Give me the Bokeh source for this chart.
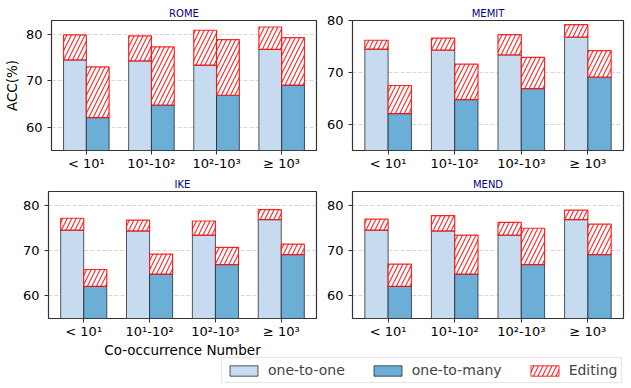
from bokeh.plotting import figure
from bokeh.models import Range1d, FixedTicker, Legend, LegendItem, ColumnDataSource, Label
from bokeh.layouts import column, row
from bokeh.embed import file_html
from bokeh.resources import INLINE

groups = ["< 10¹", "10¹-10²", "10²-10³", "≥ 10³"]
one_to_one = [74.5, 74.3, 73.4, 76.8]
one_to_many = [62.1, 64.8, 66.9, 69.1]

rome_o2o_edit = [79.9, 79.7, 80.9, 81.6]
rome_o2m_edit = [73.0, 77.3, 78.9, 79.3]
memit_o2o_edit = [76.2, 76.6, 77.3, 79.2]
memit_o2m_edit = [67.5, 71.6, 72.9, 74.2]
ike_o2o_edit = [77.1, 76.7, 76.5, 79.0]
ike_o2m_edit = [65.8, 69.2, 70.7, 71.4]
mend_o2o_edit = [76.9, 77.7, 76.2, 78.9]
mend_o2m_edit = [67.0, 73.4, 74.9, 75.8]

methods = ["ROME", "MEMIT", "IKE", "MEND"]
y_tops = [83, 80, 83, 83]
y_bottom = 55
y_ticks = [60, 70, 80]
x_label = "Co-occurrence Number"
y_label = "ACC(%)"
legend_labels = ["one-to-one", "one-to-many", "Editing"]

C_O2O = "#c6dbef"
C_O2M = "#6baed6"
EDGE = "#222222"
FONT = "DejaVu Sans"
BAR_W = 0.35


def panel(title, o2o_edit, o2m_edit, ytop, width, height, bl, br, bt, bb, ylabel=None):
    p = figure(width=width, height=height, output_backend="svg",
               toolbar_location=None,
               x_range=Range1d(-0.535, 3.535), y_range=Range1d(y_bottom, ytop),
               min_border_left=bl, min_border_right=br,
               min_border_top=bt, min_border_bottom=bb)
    p.title.text = title
    p.title.align = "center"
    p.title.text_font = FONT
    p.title.text_font_size = "10px"
    p.title.text_font_style = "normal"
    p.title.text_color = "darkblue"
    p.title.standoff = 3
    p.outline_line_color = "#333333"
    p.outline_line_width = 1.2
    p.xgrid.visible = False
    p.ygrid.grid_line_color = "#cccccc"
    p.ygrid.grid_line_dash = "4 2"
    p.ygrid.grid_line_width = 0.8
    p.ygrid.ticker = FixedTicker(ticks=y_ticks)

    xs = list(range(len(groups)))
    x1 = [i - BAR_W / 2 for i in xs]
    x2 = [i + BAR_W / 2 for i in xs]
    src = ColumnDataSource(dict(x1=x1, x2=x2, a=one_to_one, b=one_to_many,
                                ea=o2o_edit, eb=o2m_edit))
    p.vbar(x="x1", top="a", bottom=0, width=BAR_W, source=src,
           fill_color=C_O2O, line_color=EDGE, line_alpha=0.75, line_width=1)
    p.vbar(x="x2", top="b", bottom=0, width=BAR_W, source=src,
           fill_color=C_O2M, line_color=EDGE, line_alpha=0.75, line_width=1)
    for xc, bc, tc in (("x1", "a", "ea"), ("x2", "b", "eb")):
        p.vbar(x=xc, top=tc, bottom=bc, width=BAR_W, source=src,
               fill_color="white", line_color="red", line_alpha=0.85,
               line_width=1.2, hatch_pattern="/", hatch_color="red",
               hatch_alpha=0.85, hatch_scale=9, hatch_weight=1.1)

    p.xaxis.ticker = FixedTicker(ticks=xs)
    p.xaxis.major_label_overrides = {i: g for i, g in enumerate(groups)}
    p.yaxis.ticker = FixedTicker(ticks=y_ticks)
    for ax in (p.xaxis[0], p.yaxis[0]):
        ax.axis_line_color = None
        ax.major_tick_line_color = "#333333"
        ax.major_tick_out = 4
        ax.major_tick_in = 0
        ax.minor_tick_line_color = None
        ax.major_label_text_font = FONT
        ax.major_label_text_font_size = "13px"
        ax.major_label_text_color = "black"
        ax.axis_label_text_font = FONT
        ax.axis_label_text_font_size = "13.5px"
        ax.axis_label_text_font_style = "normal"
        ax.axis_label_text_color = "black"
    p.xaxis.major_label_standoff = 1
    p.yaxis.major_label_standoff = 5
    p.yaxis.axis_label_standoff = 3
    if ylabel:
        p.yaxis.axis_label = ylabel
    return p


LW, RW = 318, 313
H1, H2, HS = 175, 166, 47
p1 = panel(methods[0], rome_o2o_edit, rome_o2m_edit, y_tops[0], LW, H1, 48, 2, 20, 25, ylabel=y_label)
p2 = panel(methods[1], memit_o2o_edit, memit_o2m_edit, y_tops[1], RW, H1, 34, 8, 20, 25)
p3 = panel(methods[2], ike_o2o_edit, ike_o2m_edit, y_tops[2], LW, H2, 48, 2, 15, 21)
p4 = panel(methods[3], mend_o2o_edit, mend_o2m_edit, y_tops[3], RW, H2, 34, 8, 15, 21)

# bottom strip: x-axis title of the lower-left panel and the shared legend
lf = figure(width=LW + RW, height=HS, output_backend="svg", toolbar_location=None,
            x_range=Range1d(0, 1), y_range=Range1d(0, 1),
            x_axis_location=None, y_axis_location=None,
            min_border=0, outline_line_color=None)
for g in lf.grid:
    g.visible = False
lf.add_layout(Label(x=182, y=HS, x_units="screen", y_units="screen", text=x_label,
                    text_font=FONT, text_font_size="13.5px", text_color="black",
                    text_align="center", text_baseline="top"))
# legend-only renderers, placed outside the visible range
r1 = lf.vbar(x=[5], top=[5], bottom=[4], width=0.1, fill_color=C_O2O, line_color=EDGE, line_alpha=0.75)
r2 = lf.vbar(x=[5], top=[5], bottom=[4], width=0.1, fill_color=C_O2M, line_color=EDGE, line_alpha=0.75)
r3 = lf.vbar(x=[5], top=[5], bottom=[4], width=0.1, fill_color="white", line_color="red",
             line_alpha=0.85, hatch_pattern="/", hatch_color="red",
             hatch_alpha=0.85, hatch_scale=9, hatch_weight=1.1)
legend = Legend(items=[LegendItem(label=legend_labels[0], renderers=[r1]),
                       LegendItem(label=legend_labels[1], renderers=[r2]),
                       LegendItem(label=legend_labels[2], renderers=[r3])],
                location=(221, 5), orientation="horizontal",
                label_text_font=FONT, label_text_font_size="14px",
                glyph_width=35, glyph_height=13, label_standoff=7,
                spacing=25, padding=4, margin=0,
                border_line_color="#cccccc", border_line_width=1,
                background_fill_color="white")
lf.add_layout(legend)

layout = column(row(p1, p2), row(p3, p4), lf)
open("out.html", "w").write(file_html(layout, INLINE))
